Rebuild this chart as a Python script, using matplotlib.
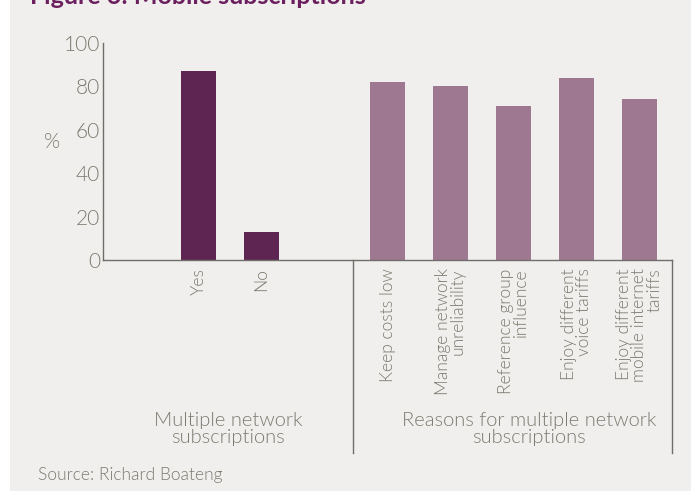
import matplotlib
matplotlib.use('Agg')
import matplotlib.pyplot as plt
from matplotlib.patches import Rectangle
from matplotlib.lines import Line2D

# data
subs_labels = ['Yes', 'No']
subs_values = [87, 13]
reason_labels = ['Keep costs low',
                 'Manage network\nunreliability',
                 'Reference group\ninfluence',
                 'Enjoy different\nvoice tariffs',
                 'Enjoy different\nmobile internet\ntariffs']
reason_values = [82, 80, 71, 84, 74]
group_labels = ['Multiple network\nsubscriptions', 'Reasons for multiple network\nsubscriptions']
y_ticks = [0, 20, 40, 60, 80, 100]

bg = '#f0efed'
txt = '#7c7b70'
dark = '#5e2553'
light = '#9e7791'
axc = '#6f6f6a'

plt.rcParams['font.family'] = ['Lato', 'DejaVu Sans']
plt.rcParams['font.weight'] = 300

W, H = 691, 491
fig = plt.figure(figsize=(W / 100, H / 100), dpi=100, facecolor='white')
fig.patches.append(Rectangle((10 / W, 0), 1, 1, transform=fig.transFigure,
                             facecolor=bg, edgecolor='none', zorder=-5))

# title is cut at the top edge in the reference
fig.text(30 / W, 1 - 4 / H, 'Figure 6: Mobile subscriptions', color='#6b1f5e',
         fontsize=18, fontweight='bold', va='baseline', ha='left')

ax = fig.add_axes([103 / W, 1 - 260 / H, (672 - 103) / W, (260 - 43) / H])
ax.set_facecolor('none')
ax.set_zorder(2)

x_subs = list(range(len(subs_labels)))
x_reason = [i + 3 for i in range(len(reason_labels))]
ax.bar(x_subs, subs_values, width=0.556, color=dark)
ax.bar(x_reason, reason_values, width=0.556, color=light)

ax.set_xlim(-1.52, 7.52)
ax.set_ylim(0, 100)
ax.set_yticks(y_ticks)
ax.set_yticklabels([str(v) for v in y_ticks], fontsize=15, color=txt, fontweight=300)
ax.tick_params(axis='y', length=0, pad=2)
ax.set_xticks(x_subs + x_reason)
ax.set_xticklabels(subs_labels + reason_labels, rotation=90, fontsize=12.5, color=txt,
                   fontweight=300, va='top', ha='center', multialignment='right',
                   linespacing=0.95)
ax.tick_params(axis='x', length=0, pad=6)

for s in ['top', 'right']:
    ax.spines[s].set_visible(False)
for s in ['left', 'bottom']:
    ax.spines[s].set_color(axc)
    ax.spines[s].set_linewidth(1)

ax.set_ylabel('%', rotation=0, fontsize=15, color=txt, fontweight=300)
ax.yaxis.set_label_coords((52 - 103) / (672 - 103), (260 - 152) / 217)

# group separators
tr = ax.get_xaxis_transform()
bottom = -(453 - 260) / 217
for xs in [2.45, 7.52]:
    ax.add_line(Line2D([xs, xs], [0, bottom], transform=tr, color=axc, lw=1, clip_on=False))

fig.text(228 / W, 1 - 429 / H, group_labels[0], fontsize=14.5, color=txt, fontweight=300,
         ha='center', va='center', linespacing=1.0)
fig.text(529 / W, 1 - 429 / H, group_labels[1], fontsize=14.5, color=txt, fontweight=300,
         ha='center', va='center', linespacing=1.0)

fig.text(38 / W, 1 - 475 / H, 'Source: Richard Boateng', fontsize=12.5, color=txt,
         fontweight=300, ha='left', va='center')

fig.savefig('out.png', dpi=100, facecolor=fig.get_facecolor())
